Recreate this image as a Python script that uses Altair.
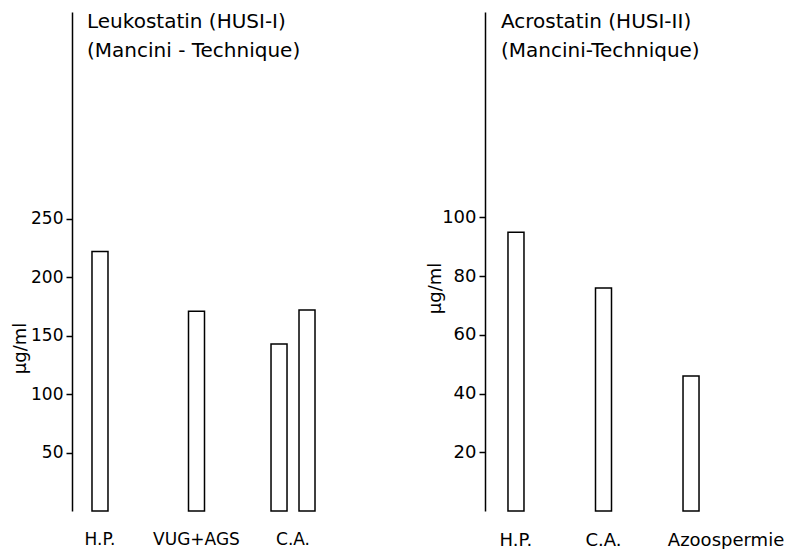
import altair as alt
import pandas as pd

FONT = "DejaVu Sans"

# Left panel: Leukostatin (HUSI-I)
left_groups = ["H.P.", "VUG+AGS", "C.A.", "C.A."]
left_sub = ["", "", "1", "2"]
left_values = [222, 171, 143, 172]
left_ticks = [50, 100, 150, 200, 250]
left_title = ["Leukostatin (HUSI-I)", "(Mancini - Technique)"]

# Right panel: Acrostatin (HUSI-II)
right_groups = ["H.P.", "C.A.", "Azoospermie"]
right_values = [95, 76, 46]
right_ticks = [20, 40, 60, 80, 100]
right_title = ["Acrostatin (HUSI-II)", "(Mancini-Technique)"]

y_label = "µg/ml"

left_df = pd.DataFrame({"group": left_groups, "sub": left_sub, "value": left_values})
right_df = pd.DataFrame({"group": right_groups, "value": right_values})

H = 499
BAR = dict(fill="white", stroke="black", strokeWidth=1.5, width=16)


def y_axis(ticks, tx, ty, size):
    return alt.Axis(
        values=ticks, title=y_label, grid=False, domainColor="black", domainWidth=1.5,
        tickColor="black", tickWidth=1.5, tickSize=6, labelPadding=3,
        labelFont=FONT, labelFontSize=size, labelColor="black",
        titleFont=FONT, titleFontSize=18, titleColor="black", titleFontWeight="normal",
        titleAngle=270, titleAlign="center", titleBaseline="middle",
        titleX=tx, titleY=ty,
    )


def x_axis(size, offset=None):
    kw = dict(
        title=None, domain=False, ticks=False, labelAngle=0, labelPadding=20,
        labelFont=FONT, labelFontSize=size, labelColor="black",
    )
    if offset is not None:
        kw["labelOffset"] = offset
    return alt.Axis(**kw)


left_x = alt.X("group:N", sort=["H.P.", "VUG+AGS", "C.A."],
               scale=alt.Scale(paddingInner=0.42, paddingOuter=0),
               axis=x_axis(17))
left_y = alt.Y("value:Q", scale=alt.Scale(domain=[0, 427], nice=False, zero=True),
               axis=y_axis(left_ticks, -52, 336, 17))

left_single = alt.Chart(left_df).transform_filter("datum.sub == ''").mark_bar(**BAR).encode(
    x=left_x, y=left_y)
left_pair = alt.Chart(left_df).transform_filter("datum.sub != ''").mark_bar(**BAR).encode(
    x=left_x, y=left_y,
    xOffset=alt.XOffset("sub:N", scale=alt.Scale(paddingInner=0, paddingOuter=0)))
left_text = alt.Chart(alt.Data(values=[{"t": 0}])).mark_text(
    align="left", baseline="alphabetic", font=FONT, fontSize=20, lineHeight=29,
    color="black").encode(x=alt.value(15), y=alt.value(16), text=alt.value(left_title))

left = alt.layer(left_single, left_pair, left_text).properties(width=249, height=H)

right_x = alt.X("group:N", sort=right_groups,
                scale=alt.Scale(paddingInner=0.5, paddingOuter=0.104),
                axis=x_axis(18, {"condition": {"test": "datum.value == 'Azoospermie'", "value": 35}, "value": 0}))
right_y = alt.Y("value:Q", scale=alt.Scale(domain=[0, 170], nice=False, zero=True),
                axis=y_axis(right_ticks, -50, 276, 18))

right_bars = alt.Chart(right_df).mark_bar(**BAR).encode(x=right_x, y=right_y)
right_text = alt.Chart(alt.Data(values=[{"t": 0}])).mark_text(
    align="left", baseline="alphabetic", font=FONT, fontSize=20, lineHeight=29,
    color="black").encode(x=alt.value(16), y=alt.value(16), text=alt.value(right_title))

right = alt.layer(right_bars, right_text).properties(width=237, height=H)

chart = alt.hconcat(left, right, spacing=105).configure(
    padding={"left": 3, "top": 4, "right": 0, "bottom": 0}
).configure_view(stroke=None).configure_axisX(labelBaseline="top")

chart.save("out.html", embed_options={"renderer": "svg", "actions": False})
